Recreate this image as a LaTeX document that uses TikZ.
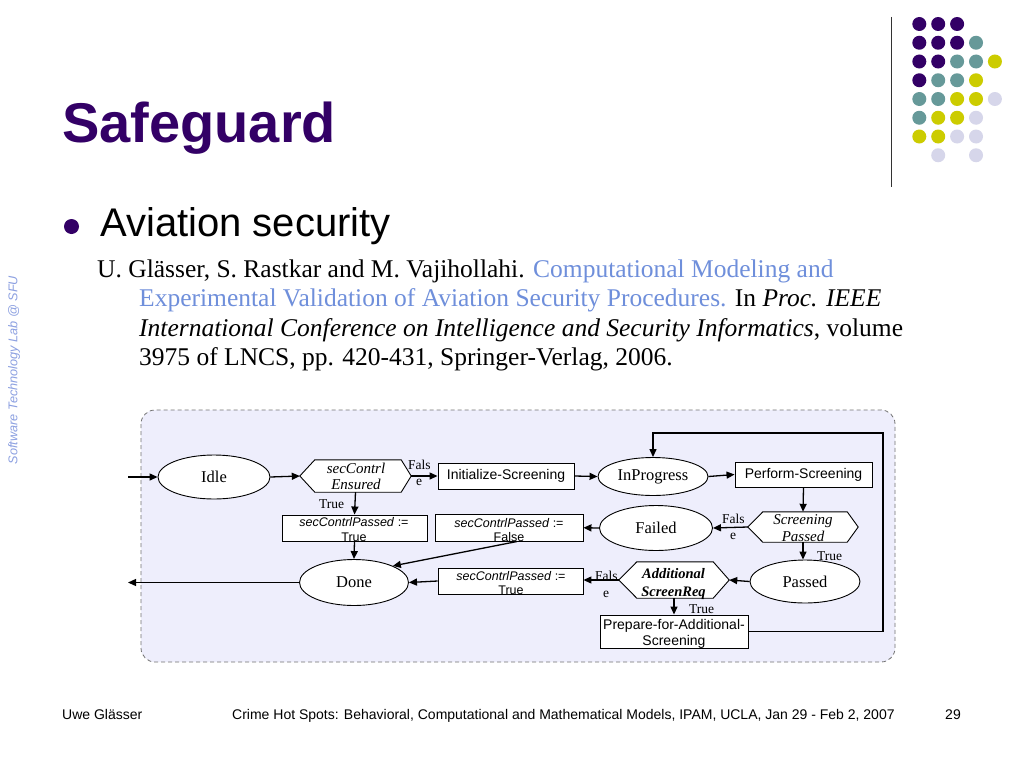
\documentclass[tikz,border=0pt]{standalone}
\usepackage{fontspec}
\setmainfont{Liberation Serif}
\newfontfamily\arial{Liberation Sans}
\usetikzlibrary{arrows.meta,shapes.geometric}
\definecolor{ttl}{RGB}{51,0,102}
\definecolor{dotP}{RGB}{51,0,102}
\definecolor{dotT}{RGB}{102,153,153}
\definecolor{dotY}{RGB}{204,204,0}
\definecolor{dotL}{RGB}{214,214,234}
\definecolor{linkblue}{RGB}{111,143,219}
\definecolor{sideblue}{RGB}{140,160,225}
\definecolor{bgfill}{RGB}{238,238,252}
\newcommand\hexa[3]{\draw[boxline,fill=white] (#1.west) -- ([xshift=#2]#1.north west) -- ([xshift=-#3]#1.north east) -- (#1.east) -- ([xshift=-#3]#1.south east) -- ([xshift=#2]#1.south west) -- cycle;}
\begin{document}
\begin{tikzpicture}[x=1pt,y=-1pt,
  boxline/.style={draw=black,line width=0.9pt},
  ell/.style={boxline,ellipse,fill=white,inner sep=0pt,font=\fontsize{16.5}{18}\selectfont},
  rbox/.style={boxline,rectangle,fill=white,inner sep=0pt},
  hexnode/.style={rectangle,draw=none,inner sep=0pt},
  arr/.style={line width=1.3pt,-{Triangle[length=8pt,width=7pt]}},
  lbl/.style={inner sep=0pt,font=\fontsize{13.5}{14}\selectfont},
  hext/.style={inner sep=0pt,anchor=base,font=\fontsize{15}{16}\selectfont\itshape},
  btxt/.style={inner sep=0pt,anchor=base,font=\arial\fontsize{12.5}{13}\selectfont},
  cite/.style={inner sep=0pt,anchor=base west,font=\fontsize{25.5}{30}\selectfont},
  foot/.style={inner sep=0pt,anchor=base west,font=\arial\fontsize{14}{16}\selectfont}]
\useasboundingbox (0,0) rectangle (1024,768);
\fill[white] (0,0) rectangle (1024,768);

% decoration: dots and vertical rule
\draw[line width=1.5pt,black!80] (891.5,17) -- (891.5,187);
\foreach \c/\r in {0/0,1/0,2/0,0/1,1/1,2/1,0/2,1/2,0/3}
  \fill[dotP] (919.3+18.9*\c,24+18.75*\r) circle (7);
\foreach \c/\r in {3/1,2/2,3/2,1/3,2/3,0/4,1/4,0/5}
  \fill[dotT] (919.3+18.9*\c,24+18.75*\r) circle (7);
\foreach \c/\r in {4/2,3/3,2/4,3/4,1/5,2/5,0/6,1/6}
  \fill[dotY] (919.3+18.9*\c,24+18.75*\r) circle (7);
\foreach \c/\r in {4/4,3/5,2/6,3/6,1/7,3/7}
  \fill[dotL] (919.3+18.9*\c,24+18.75*\r) circle (7);

% title and bullet
\node[inner sep=0pt,anchor=base west,text=ttl,font=\arial\bfseries\fontsize{56}{60}\selectfont] (title) at (62,142) {Safeguard};
\fill[ttl] (71.5,226.5) circle (7.5);
\node[inner sep=0pt,anchor=base west,font=\arial\fontsize{40}{44}\selectfont] (bullet) at (100,236.5) {Aviation security};

% citation
\node[cite] (c1) at (97,277) {U. Glässer, S. Rastkar and M. Vajihollahi. \textcolor{linkblue}{Computational Modeling and}};
\node[cite] (c2) at (139,306.5) {\textcolor{linkblue}{Experimental Validation of Aviation Security Procedures.} In \textit{Proc. IEEE}};
\node[cite] (c3) at (139,336) {\textit{International Conference on Intelligence and Security Informatics}, volume};
\node[cite] (c4) at (139,365.5) {3975 of LNCS, pp. 420-431, Springer-Verlag, 2006.};

% side text
\node[inner sep=0pt,rotate=90,text=sideblue,font=\arial\itshape\fontsize{12.7}{14}\selectfont] (side) at (14,370) {Software Technology Lab @ SFU};

% footer
\node[foot] (f1) at (62,719) {Uwe Glässer};
\node[foot] (f2) at (232,719) {Crime Hot Spots: Behavioral, Computational and Mathematical Models, IPAM, UCLA, Jan 29 - Feb 2, 2007};
\node[foot] (f3) at (945,719) {29};

% diagram background
\draw[fill=bgfill,draw=black!55,line width=0.8pt,dash pattern=on 4pt off 3pt,rounded corners=14pt] (141,410) rectangle (895,662);

% nodes
\node[ell,minimum width=112,minimum height=44] (idle) at (214,477) {Idle};
\node[ell,minimum width=110,minimum height=38] (inprog) at (653,476.5) {InProgress};
\node[ell,minimum width=113,minimum height=45] (failed) at (656,528) {Failed};
\node[ell,minimum width=109,minimum height=46] (done) at (354,582.5) {Done};
\node[ell,minimum width=110,minimum height=43] (passed) at (805,581.5) {Passed};

\node[rbox,minimum width=136,minimum height=26,font=\arial\fontsize{14}{16}\selectfont] (init) at (506,476) {Initialize-Screening};
\node[rbox,minimum width=137,minimum height=25,font=\arial\fontsize{14}{16}\selectfont] (perform) at (803.5,474.5) {Perform-Screening};
\node[rbox,minimum width=145,minimum height=26] (trueA) at (354.5,528) {};
\node[rbox,minimum width=148,minimum height=27.5] (falseB) at (509,527.75) {};
\node[rbox,minimum width=145,minimum height=26] (trueC) at (510.5,581) {};
\node[rbox,minimum width=148,minimum height=33] (prep) at (674,631.5) {};

\node[hexnode,minimum width=111,minimum height=32] (h1) at (355.5,476) {};
\hexa{h1}{15pt}{10pt}
\node[hexnode,minimum width=110,minimum height=30] (h2) at (803,527) {};
\hexa{h2}{15pt}{11pt}
\node[hexnode,minimum width=110,minimum height=36] (h3) at (674,580) {};
\hexa{h3}{18pt}{16pt}

% texts in shapes
\node[hext] (h1a) at (356,473) {secContrl};
\node[hext] (h1b) at (356,489) {Ensured};
\node[hext] (h2a) at (803,524) {Screening};
\node[hext] (h2b) at (803,541) {Passed};
\node[hext,font=\fontsize{14.5}{16}\selectfont\bfseries\itshape] (h3a) at (673.5,578) {Additional};
\node[hext,font=\fontsize{14.5}{16}\selectfont\bfseries\itshape] (h3b) at (673.5,596) {ScreenReq};

\node[btxt] (tA1) at (354,526) {\textit{secContrlPassed} :=};
\node[btxt] (tA2) at (354,541) {True};
\node[btxt] (tB1) at (509,527) {\textit{secContrlPassed} :=};
\node[btxt] (tB2) at (509,541) {False};
\node[btxt] (tC1) at (511,580) {\textit{secContrlPassed} :=};
\node[btxt] (tC2) at (511,594) {True};
\node[btxt,font=\arial\fontsize{14}{16}\selectfont] (p1) at (674,629) {Prepare-for-Additional-};
\node[btxt,font=\arial\fontsize{14}{16}\selectfont] (p2) at (674,645.5) {Screening};

% branch labels
\node[lbl,anchor=base west] (l1f) at (408,469) {Fals};
\node[lbl,anchor=base] (l1e) at (419,485) {e};
\node[lbl,anchor=base west] (l1t) at (319,508) {True};
\node[lbl,anchor=base west] (l2f) at (722,523) {Fals};
\node[lbl,anchor=base] (l2e) at (733,539) {e};
\node[lbl,anchor=base west] (l2t) at (817,560) {True};
\node[lbl,anchor=base west] (l3f) at (595,580) {Fals};
\node[lbl,anchor=base] (l3e) at (606,597) {e};
\node[lbl,anchor=base west] (l3t) at (689,613) {True};

% connectors
\coordinate (inA) at (128,477);
\coordinate (outA) at (128,582.5);
\coordinate (loopTR) at (883,433);
\coordinate (fbStart) at (517,541.5);
\draw[arr] (inA) -- (idle.west);
\draw[arr] (idle.east) -- (h1.west);
\draw[arr] (h1.east) -- (init.west);
\draw[arr] (init.east) -- (inprog.west);
\draw[arr] (inprog.east) -- (perform.west);
\draw[arr] (perform.south) -- (h2.north);
\draw[arr] (h2.west) -- (failed.east);
\draw[arr] (failed.west) -- (falseB.east);
\draw[arr] (fbStart) -- (done.north east);
\draw[arr] (h1.south) -- (trueA.north);
\draw[arr] (trueA.south) -- (done.north);
\draw[arr] (done.west) -- (outA);
\draw[arr] (trueC.west) -- (done.east);
\draw[arr] (h3.west) -- (trueC.east |- h3.west);
\draw[arr] (passed.west) -- (h3.east);
\draw[arr] (h2.south) -- (h2.south |- passed.north);
\draw[arr] (h3.south) -- (prep.north);
\draw[arr] (prep.east) -| (loopTR) -| (inprog.north);
\end{tikzpicture}
\end{document}
